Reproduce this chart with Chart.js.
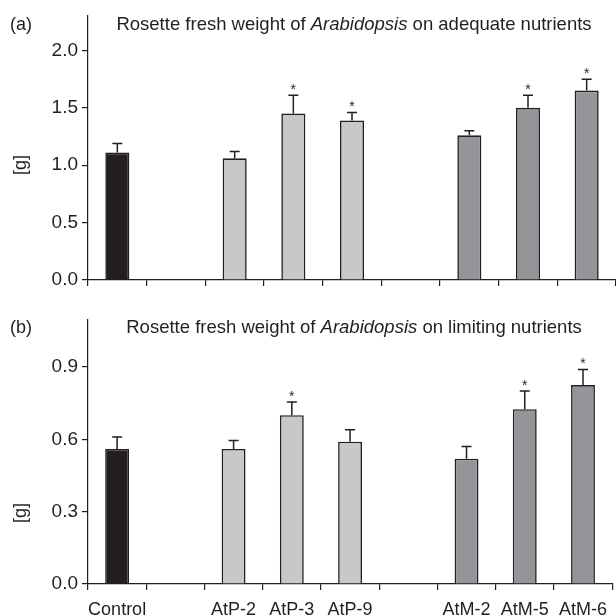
<!DOCTYPE html>
<html>
<head>
<meta charset="utf-8">
<script src="https://cdn.jsdelivr.net/npm/chart.js@4.4.1/dist/chart.umd.min.js"></script>
<style>
  html, body { margin: 0; padding: 0; background: #fff; overflow: hidden; }
  #wrap-a { position: absolute; left: 0; top: 0; width: 616px; height: 300px; }
  #wrap-b { position: absolute; left: 0; top: 300px; width: 616px; height: 316px; }
</style>
</head>
<body>
<div id="wrap-a"><canvas id="chart-a"></canvas></div>
<div id="wrap-b"><canvas id="chart-b"></canvas></div>
<script>
// lines (blank slots are the gaps between groups)
const lines = ["Control", "", "AtP-2", "AtP-3", "AtP-9", "", "AtM-2", "AtM-5", "AtM-6"];

// (a) adequate nutrients, mean and SE in g
const adequate = [1.11, null, 1.06, 1.45, 1.39, null, 1.26, 1.50, 1.65];
const adequateErr = [0.08, null, 0.06, 0.16, 0.07, null, 0.04, 0.11, 0.10];
const adequateStars = ["", "", "", "*", "*", "", "", "*", "*"];
const adequateTicks = [0, 0.5, 1.0, 1.5, 2.0];

// (b) limiting nutrients
const limiting = [0.56, null, 0.56, 0.70, 0.59, null, 0.52, 0.725, 0.825];
const limitingErr = [0.05, null, 0.035, 0.055, 0.05, null, 0.05, 0.075, 0.065];
const limitingStars = ["", "", "", "*", "", "", "", "*", "*"];
const limitingTicks = [0, 0.3, 0.6, 0.9];

const INK = "#231f20";
const FONT = "'Liberation Sans', Arial, Helvetica, sans-serif";

function barColor(name) {
  if (name.startsWith("AtP")) return "#c7c8ca";
  if (name.startsWith("AtM")) return "#939598";
  return INK;
}

// error bars + significance stars
const errorBars = {
  id: "errorBars",
  afterDatasetsDraw(chart, args, opts) {
    const ctx = chart.ctx;
    const y = chart.scales.y;
    const vals = chart.data.datasets[0].data;
    ctx.save();
    ctx.strokeStyle = INK;
    ctx.fillStyle = INK;
    ctx.lineWidth = 1.5;
    chart.getDatasetMeta(0).data.forEach((bar, i) => {
      if (vals[i] == null) return;
      const top = y.getPixelForValue(vals[i] + opts.err[i]);
      ctx.beginPath();
      ctx.moveTo(bar.x, bar.y);
      ctx.lineTo(bar.x, top);
      ctx.moveTo(bar.x - 5, top);
      ctx.lineTo(bar.x + 5, top);
      ctx.stroke();
      if (opts.stars[i]) {
        ctx.font = "14px " + FONT;
        ctx.textAlign = "center";
        ctx.textBaseline = "alphabetic";
        ctx.fillText(opts.stars[i], bar.x, top - 1);
      }
    });
    ctx.restore();
  }
};

// panel letter, mixed-style title and y label
const panelText = {
  id: "panelText",
  afterDraw(chart, args, opts) {
    const ctx = chart.ctx;
    ctx.save();
    ctx.fillStyle = INK;
    ctx.textBaseline = "alphabetic";
    ctx.textAlign = "left";
    ctx.font = "18px " + FONT;
    ctx.fillText(opts.letter, 10, opts.baseline);

    const parts = [
      ["Rosette fresh weight of ", "normal"],
      ["Arabidopsis", "italic"],
      [" on " + opts.condition, "normal"]
    ];
    let total = 0;
    parts.forEach(p => {
      ctx.font = p[1] + " 18.5px " + FONT;
      total += ctx.measureText(p[0]).width;
    });
    let x = 354 - total / 2;
    parts.forEach(p => {
      ctx.font = p[1] + " 18.5px " + FONT;
      ctx.fillText(p[0], x, opts.baseline);
      x += ctx.measureText(p[0]).width;
    });

    ctx.translate(21, opts.labelY);
    ctx.rotate(-Math.PI / 2);
    ctx.textAlign = "center";
    ctx.textBaseline = "middle";
    ctx.font = "18px " + FONT;
    ctx.fillText("[g]", 0, 0);
    ctx.restore();
  }
};

function makeChart(id, values, err, stars, tickVals, max, cfg) {
  return new Chart(document.getElementById(id), {
    type: "bar",
    data: {
      labels: lines,
      datasets: [
        {
          data: values,
          backgroundColor: lines.map(barColor),
          borderColor: INK,
          borderWidth: 1.6,
          categoryPercentage: 1,
          barPercentage: 0.41,
        },
      ],
    },
    options: {
      responsive: true,
      maintainAspectRatio: false,
      animation: false,
      layout: { padding: { top: cfg.padTop, left: 0, right: 0, bottom: 0 } },
      plugins: {
        legend: { display: false },
        tooltip: { enabled: false },
        errorBars: { err: err, stars: stars },
        panelText: cfg.text,
      },
      scales: {
        x: {
          afterFit: s => { s.height = cfg.xHeight; },
          grid: { offset: true, drawOnChartArea: false, drawTicks: true, tickLength: 6, color: INK, lineWidth: 1.2 },
          border: { display: true, color: INK, width: 1.2 },
          ticks: {
            display: cfg.showLabels,
            color: INK,
            padding: 9,
            maxRotation: 0,
            autoSkip: false,
            font: { size: 18, family: FONT },
          },
        },
        y: {
          min: 0,
          max: max,
          afterBuildTicks: s => { s.ticks = tickVals.map(v => ({ value: v })); },
          afterFit: s => { s.width = 88; },
          grid: { drawOnChartArea: false, drawTicks: true, tickLength: 6, color: INK, lineWidth: 1.2 },
          border: { display: true, color: INK, width: 1.2 },
          ticks: {
            color: INK,
            padding: 4,
            font: { size: 19, family: FONT },
            callback: v => v.toFixed(1),
          },
        },
      },
    },
    plugins: [errorBars, panelText],
  });
}

makeChart("chart-a", adequate, adequateErr, adequateStars, adequateTicks, 2.3, {
  padTop: 16, xHeight: 20, showLabels: false,
  text: { letter: "(a)", condition: "adequate nutrients", baseline: 30, labelY: 165 },
});

makeChart("chart-b", limiting, limitingErr, limitingStars, limitingTicks, 1.095, {
  padTop: 20, xHeight: 32, showLabels: true,
  text: { letter: "(b)", condition: "limiting nutrients", baseline: 33, labelY: 213 },
});
</script>
</body>
</html>
